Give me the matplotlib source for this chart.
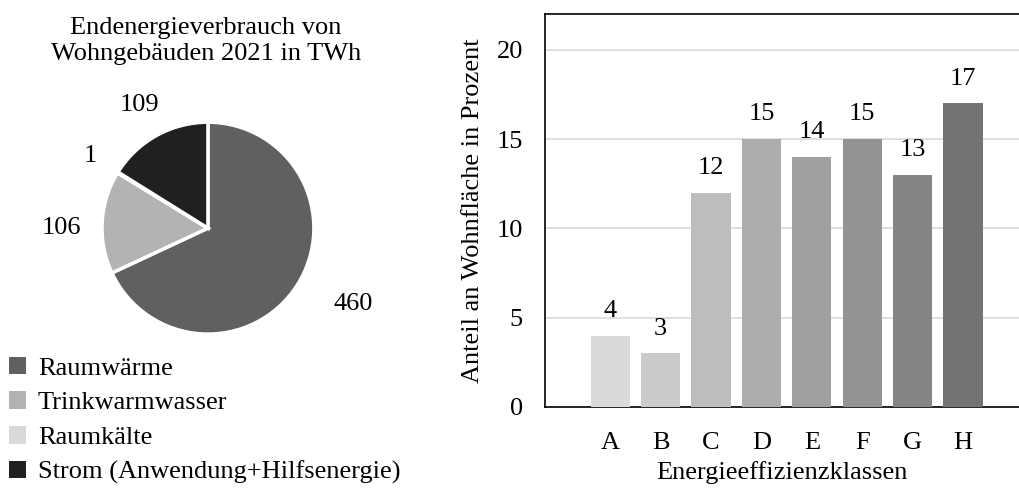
import matplotlib
matplotlib.use("Agg")
import matplotlib.pyplot as plt
from matplotlib.patches import Patch
import numpy as np

plt.rcParams['font.family'] = ['Liberation Serif', 'DejaVu Serif']
plt.rcParams['font.size'] = 19

# Pie data
pie_labels = ["Raumwärme", "Trinkwarmwasser", "Raumkälte", "Strom (Anwendung+Hilfsenergie)"]
pie_values = [460, 106, 1, 109]
pie_colors = ["#606060", "#b3b3b3", "#d9d9d9", "#202020"]
pie_title = "Endenergieverbrauch von\nWohngebäuden 2021 in TWh"

# Bar data
classes = ["A", "B", "C", "D", "E", "F", "G", "H"]
shares = [4, 3, 12, 15, 14, 15, 13, 17]
bar_colors = ["#dadada", "#cbcbcb", "#bdbdbd", "#adadad", "#a0a0a0", "#939393", "#858585", "#737373"]

fig = plt.figure(figsize=(10.19, 4.88), dpi=100)

# ---- Pie ----
axp = fig.add_axes([0.0377, 0.185, 0.3327, 0.695])
wedges, _ = axp.pie(pie_values, colors=pie_colors, startangle=90, counterclock=False,
                    wedgeprops=dict(edgecolor="white", linewidth=2.5))
axp.set_xlim(-1.6, 1.6)
axp.set_ylim(-1.6, 1.6)
axp.set_aspect("equal")
dists = [1.55, 1.38, 1.3, 1.33]
angle_shift = [5, 3, 0, 0]
for w, v, d, da in zip(wedges, pie_values, dists, angle_shift):
    ang = np.deg2rad((w.theta1 + w.theta2) / 2 + da)
    axp.text(d * np.cos(ang), d * np.sin(ang), str(v), ha="center", va="center")
fig.text(206 / 1019, 1 - 41 / 488, pie_title, ha="center", va="center", linespacing=1.2)

handles = [Patch(facecolor=c, edgecolor="none") for c in pie_colors]
fig.legend(handles, pie_labels, loc="upper left", bbox_to_anchor=(0.0088, 0.269),
           frameon=False, handlelength=0.65, handleheight=0.65, handletextpad=0.45,
           labelspacing=0.44, borderpad=0, borderaxespad=0)

# ---- Bars ----
axb = fig.add_axes([0.535, 0.166, 0.465, 0.805])
x = np.arange(len(classes))
bars = axb.bar(x, shares, width=0.78, color=bar_colors, zorder=3)
axb.bar_label(bars, labels=[str(s) for s in shares], padding=10)
axb.set_ylim(0, 22)
axb.set_xlim(-1.29, 8.11)
axb.set_yticks([0, 5, 10, 15, 20])
axb.set_xticks(x)
axb.set_xticklabels(classes)
axb.tick_params(axis="both", length=0)
axb.tick_params(axis="y", pad=16)
axb.tick_params(axis="x", pad=18)
axb.yaxis.grid(True, color="#d9d9d9", linewidth=1.2, zorder=0)
axb.set_axisbelow(True)
for s in ["left", "top", "bottom"]:
    axb.spines[s].set_color("black")
    axb.spines[s].set_linewidth(1.2)
axb.spines["right"].set_visible(False)
axb.set_ylabel("Anteil an Wohnfläche in Prozent", labelpad=9)
axb.set_xlabel("Energieeffizienzklassen", labelpad=5)

fig.savefig("out.png", dpi=100)
